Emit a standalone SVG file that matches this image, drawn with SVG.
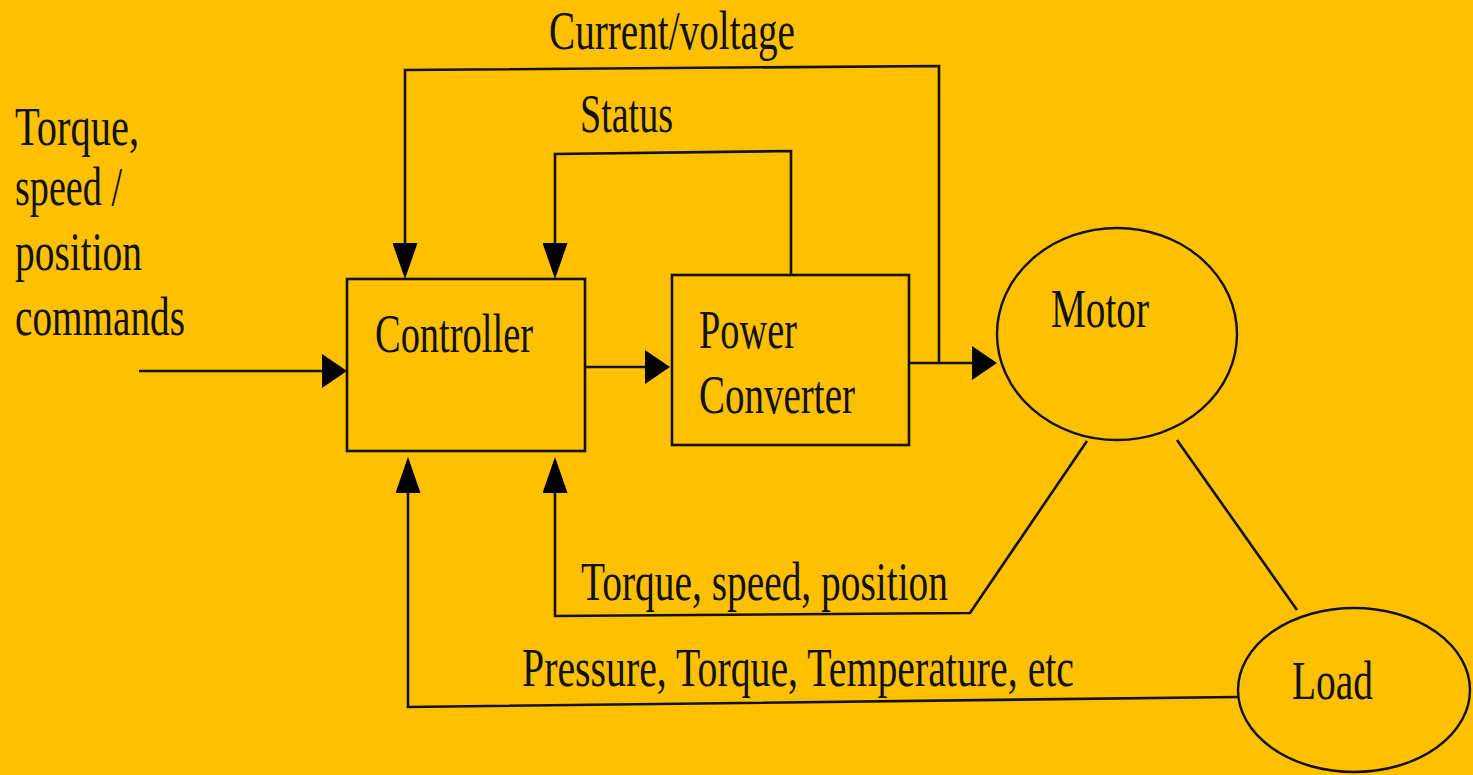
<svg xmlns="http://www.w3.org/2000/svg" width="1473" height="775" viewBox="0 0 1473 775">
<style>
.bg{fill:#FFC000}
.box{fill:none;stroke:#111;stroke-width:2.6}
.ell{fill:none;stroke:#111;stroke-width:2.4}
.wire{fill:none;stroke:#111;stroke-width:2.6}
.lbl{font-family:"Liberation Serif","Times New Roman",serif;font-size:54px;fill:#111}
</style>
<defs>
<marker id="ah" viewBox="0 0 25 34" refX="21" refY="17" markerWidth="25" markerHeight="34" markerUnits="userSpaceOnUse" orient="auto">
<path d="M0,0 L25,17 L0,34 Z" fill="#000"/>
</marker>
<marker id="av" viewBox="0 0 36 25" refX="32" refY="12.5" markerWidth="36" markerHeight="25" markerUnits="userSpaceOnUse" orient="auto">
<path d="M0,0 L36,12.5 L0,25 Z" fill="#000"/>
</marker>
</defs>
<rect class="bg" x="0" y="0" width="1473" height="775"/>

<g id="connectors">
<path class="wire" d="M139,371 H343" marker-end="url(#ah)"/>
<path class="wire" d="M585,367 H666" marker-end="url(#ah)"/>
<path class="wire" d="M909,363 H993" marker-end="url(#ah)"/>
<path class="wire" d="M939,363 V66 L405,70 V275" marker-end="url(#av)"/>
<path class="wire" d="M791,275 V151 L555,154 V275" marker-end="url(#av)"/>
<path class="wire" d="M1087,441 L970,613 L555,616 V461" marker-end="url(#av)"/>
<path class="wire" d="M1238,697 L408,707 V461" marker-end="url(#av)"/>
<path class="wire" d="M1177,440 L1297,610"/>
<text class="lbl" x="549" y="49" textLength="246" lengthAdjust="spacingAndGlyphs">Current/voltage</text>
<text class="lbl" x="580" y="132" textLength="93" lengthAdjust="spacingAndGlyphs">Status</text>
<text class="lbl" x="581" y="600" textLength="367" lengthAdjust="spacingAndGlyphs">Torque, speed, position</text>
<text class="lbl" x="522" y="686" textLength="552" lengthAdjust="spacingAndGlyphs">Pressure, Torque, Temperature, etc</text>
</g>

<g id="input-commands">
<text class="lbl" x="15" y="145" textLength="124" lengthAdjust="spacingAndGlyphs">Torque,</text>
<text class="lbl" x="15" y="205" textLength="107" lengthAdjust="spacingAndGlyphs">speed /</text>
<text class="lbl" x="15" y="270" textLength="127" lengthAdjust="spacingAndGlyphs">position</text>
<text class="lbl" x="15" y="335" textLength="170" lengthAdjust="spacingAndGlyphs">commands</text>
</g>

<g id="controller">
<rect class="box" x="347" y="279" width="238" height="172"/>
<text class="lbl" x="375" y="352" textLength="158" lengthAdjust="spacingAndGlyphs">Controller</text>
</g>

<g id="power-converter">
<rect class="box" x="672" y="275" width="237" height="170"/>
<text class="lbl" x="699" y="348" textLength="98" lengthAdjust="spacingAndGlyphs">Power</text>
<text class="lbl" x="699" y="413" textLength="156" lengthAdjust="spacingAndGlyphs">Converter</text>
</g>

<g id="motor">
<ellipse class="ell" cx="1117" cy="334" rx="120" ry="106"/>
<text class="lbl" x="1051" y="327" textLength="98" lengthAdjust="spacingAndGlyphs">Motor</text>
</g>

<g id="load">
<ellipse class="ell" cx="1354" cy="690" rx="116" ry="82"/>
<text class="lbl" x="1292" y="699" textLength="81" lengthAdjust="spacingAndGlyphs">Load</text>
</g>
</svg>
